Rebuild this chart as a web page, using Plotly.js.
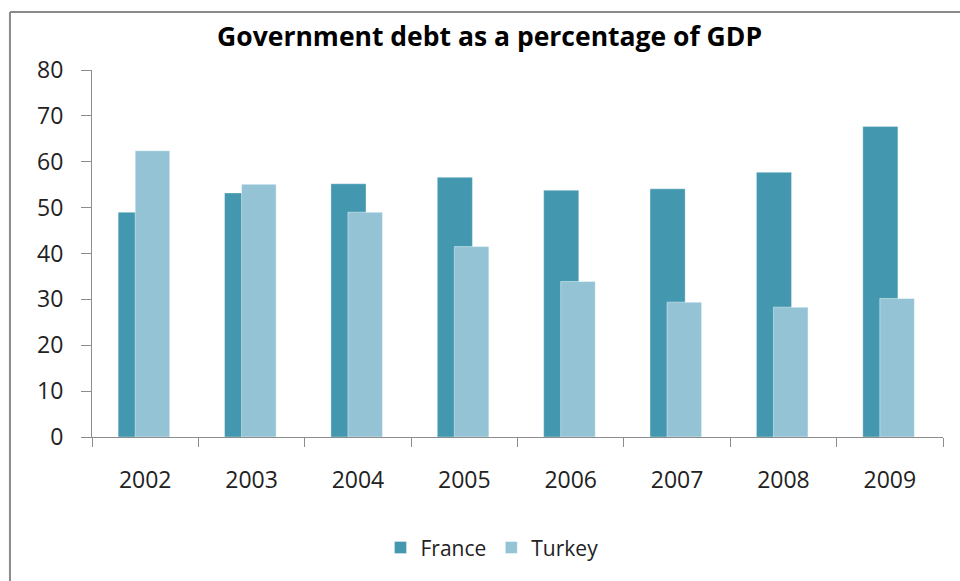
<!DOCTYPE html>
<html>
<head>
<meta charset="utf-8">
<script src="https://cdn.plot.ly/plotly-3.0.1.min.js"></script>
<style>
html,body{margin:0;padding:0;background:#fff;}
#chart{width:960px;height:581px;}
</style>
</head>
<body>
<div id="chart"></div>
<script>
const years = ['2002','2003','2004','2005','2006','2007','2008','2009'];
const france = [49.0, 53.2, 55.2, 56.6, 53.8, 54.1, 57.7, 67.7];
const turkey = [62.4, 55.1, 49.0, 41.5, 33.9, 29.4, 28.3, 30.2];
const yTicks = [0, 10, 20, 30, 40, 50, 60, 70, 80];

const FONT = '"Open Sans", "Liberation Sans", sans-serif';

const traces = [
  {
    type: 'bar', name: 'France', x: years, y: france,
    offset: -0.254, width: 0.33,
    marker: {color: '#4398AF', line: {color: 'rgba(255,255,255,0.35)', width: 1}}
  },
  {
    type: 'bar', name: 'Turkey', x: years, y: turkey,
    offset: -0.094, width: 0.325,
    marker: {color: '#93C3D5', line: {color: 'rgba(255,255,255,0.45)', width: 1}}
  }
];

const layout = {
  width: 960, height: 581,
  margin: {l: 92, r: 17, t: 70, b: 144},
  paper_bgcolor: '#fff', plot_bgcolor: '#fff',
  barmode: 'overlay',
  showlegend: true,
  font: {family: FONT, color: '#222'},
  title: {
    text: '<b>Government debt as a percentage of GDP</b>',
    font: {family: FONT, size: 26.5, color: '#000'},
    x: 0.51, xref: 'container', xanchor: 'center',
    y: 0.937, yref: 'container', yanchor: 'middle'
  },
  xaxis: {
    type: 'category',
    showline: true, linecolor: '#8c8c8c', linewidth: 1,
    ticks: 'outside', tickson: 'boundaries', ticklen: 9, tickcolor: '#8c8c8c',
    tickfont: {family: FONT, size: 23, color: '#222'},
    showgrid: false, zeroline: false,
    ticklabelstandoff: 22
  },
  yaxis: {
    range: [0, 80], tickvals: yTicks, ticktext: yTicks.map(String),
    showline: true, linecolor: '#8c8c8c', linewidth: 1,
    ticks: 'outside', ticklen: 10, tickcolor: '#8c8c8c',
    tickfont: {family: FONT, size: 23, color: '#222'},
    showgrid: false, zeroline: false,
    ticklabelstandoff: 13
  },
  legend: {
    orientation: 'h', x: 0.47, xanchor: 'center', y: -0.302, yanchor: 'middle',
    font: {family: FONT, size: 21, color: '#222'},
    traceorder: 'normal', itemclick: false
  },
  shapes: [
    {type: 'line', xref: 'paper', yref: 'paper', x0: -0.0964, x1: 1.1, y0: 1.158, y1: 1.158,
     line: {color: '#8a8a8a', width: 2}},
    {type: 'line', xref: 'paper', yref: 'paper', x0: -0.0964, x1: -0.0964, y0: 1.158, y1: -0.5,
     line: {color: '#8a8a8a', width: 2}}
  ]
};

Plotly.newPlot('chart', traces, layout, {displayModeBar: false, staticPlot: true});
</script>
</body>
</html>
